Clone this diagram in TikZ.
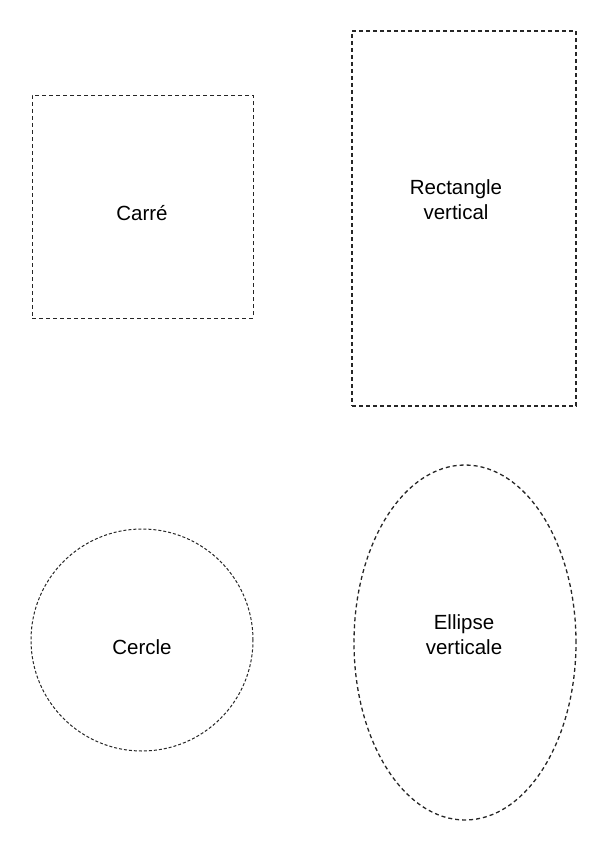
\documentclass[tikz,border=0pt]{standalone}
\usepackage{fontspec}
\setmainfont{Liberation Sans}
\usetikzlibrary{shapes.geometric}
\begin{document}
\begin{tikzpicture}[x=1pt,y=-1pt,
  shp/.style={draw=black!85,line width=1pt,dash pattern=on 4pt off 3pt,inner sep=0pt},
  lbl/.style={font=\fontsize{20.5}{25}\selectfont,align=center,inner sep=0pt}]
\useasboundingbox (0,0) rectangle (600,843);
\node[shp,minimum width=221pt,minimum height=223pt] (sq) at (142.5,206.5) {};
\node[lbl] (sqt) at (142,213) {Carré};
\node[shp,line width=1.3pt,minimum width=224pt,minimum height=375pt] (re) at (464,218.5) {};
\node[lbl] (ret) at (456,200) {Rectangle\\vertical};
\node[shp,circle,dash pattern=on 3pt off 2pt,minimum size=222pt] (ci) at (142,640) {};
\node[lbl] (cit) at (142,647) {Cercle};
\node[shp,ellipse,line width=1.3pt,minimum width=222pt,minimum height=355pt] (el) at (465,642.5) {};
\node[lbl] (elt) at (464,635) {Ellipse\\verticale};
\end{tikzpicture}
\end{document}
